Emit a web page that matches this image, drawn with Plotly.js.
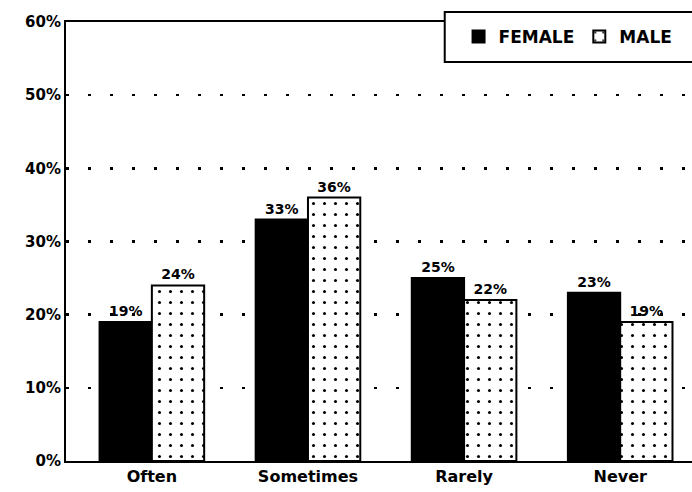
<!DOCTYPE html>
<html><head><meta charset="utf-8">
<script src="https://cdn.plot.ly/plotly-3.0.1.min.js"></script>
<style>html,body{margin:0;padding:0;background:#fff;}</style>
</head><body>
<div id="chart" style="width:692px;height:492px;"></div>
<script>
const categories = ["Often", "Sometimes", "Rarely", "Never"];
const female = [19, 33, 25, 23];
const male = [24, 36, 22, 19];
const tickVals = [0, 10, 20, 30, 40, 50, 60];
const tickText = ["0%", "10%", "20%", "30%", "40%", "50%", "60%"];

const fnt = {family: "DejaVu Sans, Liberation Sans, Arial, sans-serif", color: "#000", weight: "bold"};

const traces = [
  {type: "bar", name: "FEMALE", x: categories, y: female,
   text: female.map(v => v + "%"), textposition: "outside", cliponaxis: false,
   textfont: Object.assign({}, fnt, {size: 14}),
   marker: {color: "#000", line: {color: "#000", width: 2}}},
  {type: "bar", name: "MALE", x: categories, y: male,
   text: male.map(v => v + "%"), textposition: "outside", cliponaxis: false,
   textfont: Object.assign({}, fnt, {size: 14}),
   marker: {color: "#fff", line: {color: "#000", width: 2},
            pattern: {shape: ".", fgcolor: "#000", bgcolor: "#fff", size: 11, solidity: 0.06}}}
];

const layout = {
  width: 692, height: 492,
  margin: {l: 66, r: 0, t: 22, b: 31},
  paper_bgcolor: "#fff", plot_bgcolor: "#fff",
  barmode: "group", bargap: 0.33, bargroupgap: 0,
  font: Object.assign({}, fnt, {size: 15}),
  showlegend: true,
  legend: {orientation: "h", x: 0.802, xanchor: "center", y: 0.966, yanchor: "middle",
           bgcolor: "rgba(0,0,0,0)", borderwidth: 0,
           font: Object.assign({}, fnt, {size: 17}), traceorder: "normal"},
  shapes: [{type: "rect", xref: "paper", yref: "paper", x0: 0.605, x1: 1.005, y0: 0.909, y1: 1.0228,
            fillcolor: "#fff", line: {color: "#000", width: 2}, layer: "above"}],
  xaxis: {range: [-0.55, 3.46], showline: true, linecolor: "#000", linewidth: 2,
          mirror: true, ticks: "", showgrid: false, tickfont: Object.assign({}, fnt, {size: 16})},
  yaxis: {range: [0, 60], tickvals: tickVals, ticktext: tickText,
          showline: true, linecolor: "#000", linewidth: 2, ticks: "",
          showgrid: true, gridcolor: "#000", gridwidth: 2.5, griddash: "3px,19px",
          zeroline: false, tickfont: Object.assign({}, fnt, {size: 15})}
};

Plotly.newPlot("chart", traces, layout, {displayModeBar: false, staticPlot: true});
</script>
</body></html>
